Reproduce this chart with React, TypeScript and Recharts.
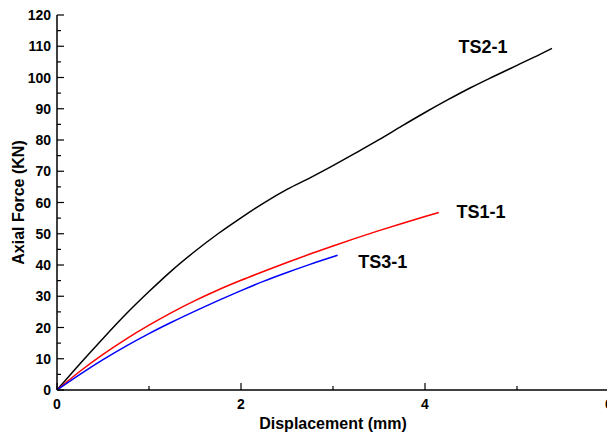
import { LineChart, Line, XAxis, YAxis, ReferenceDot } from "recharts";

// TS2-1 (black)
const ts2Disp = [0, 0.25, 0.5, 0.75, 1.0, 1.25, 1.5, 1.75, 2.0, 2.25, 2.5, 2.75, 3.0, 3.25, 3.5, 3.75, 4.0, 4.25, 4.5, 4.75, 5.0, 5.25, 5.38];
const ts2Force = [0, 8.4, 16.5, 24.3, 31.5, 38.3, 44.4, 50.0, 55.1, 59.9, 64.2, 67.9, 71.8, 75.9, 80.1, 84.5, 88.8, 92.9, 96.8, 100.4, 103.9, 107.4, 109.3];

// TS1-1 (red)
const ts1Disp = [0, 0.25, 0.5, 0.75, 1.0, 1.25, 1.5, 1.75, 2.0, 2.25, 2.5, 2.75, 3.0, 3.25, 3.5, 3.75, 4.0, 4.15];
const ts1Force = [0, 6.0, 11.4, 16.3, 20.75, 24.85, 28.6, 32.0, 35.1, 38.0, 40.8, 43.5, 46.1, 48.6, 51.0, 53.3, 55.5, 56.8];

// TS3-1 (blue)
const ts3Disp = [0, 0.25, 0.5, 0.75, 1.0, 1.25, 1.5, 1.75, 2.0, 2.25, 2.5, 2.75, 3.05];
const ts3Force = [0, 5.0, 9.7, 14.05, 18.05, 21.75, 25.25, 28.6, 31.8, 34.85, 37.6, 40.2, 43.1];

const xTicks = [0, 1, 2, 3, 4, 5, 6];
const yTicks = [0, 5, 10, 15, 20, 25, 30, 35, 40, 45, 50, 55, 60, 65, 70, 75, 80, 85, 90, 95, 100, 105, 110, 115, 120];

const labels = [
  { name: "TS2-1", x: 4.63, y: 110 },
  { name: "TS1-1", x: 4.61, y: 57 },
  { name: "TS3-1", x: 3.54, y: 41 },
];

const toPoints = (d: number[], f: number[]) => d.map((x, i) => ({ x, y: f[i] }));

const font = "'Liberation Sans', Arial, sans-serif";

const BottomTick = (p: any) => {
  const v = p.payload.value;
  const major = v % 2 === 0;
  return (
    <g>
      <line x1={p.x} y1={p.y} x2={p.x} y2={p.y - (major ? 7 : 4)} stroke="#000" strokeWidth={1.2} />
      {major && (
        <text x={p.x} y={p.y + 19} textAnchor="middle" fontSize={14} fontWeight="bold" fontFamily={font} fill="#000">
          {v}
        </text>
      )}
    </g>
  );
};

const TopTick = (p: any) => (
  <line x1={p.x} y1={p.y} x2={p.x} y2={p.y + 3} stroke="#000" strokeWidth={1.2} />
);

const LeftTick = (p: any) => {
  const v = p.payload.value;
  const major = v % 10 === 0;
  return (
    <g>
      <line x1={p.x} y1={p.y} x2={p.x + (major ? 7 : 4)} y2={p.y} stroke="#000" strokeWidth={1.2} />
      {major && (
        <text x={p.x - 6} y={p.y + 5} textAnchor="end" fontSize={14} fontWeight="bold" fontFamily={font} fill="#000">
          {v}
        </text>
      )}
    </g>
  );
};

export default function App() {
  return (
    <div style={{ position: "absolute", left: 0, top: 0, width: 607, height: 434, overflow: "hidden", background: "#fff" }}>
      <LineChart width={630} height={434} margin={{ top: 15, right: 21, bottom: 0, left: 0 }}>
        <XAxis
          type="number"
          dataKey="x"
          domain={[0, 6]}
          ticks={xTicks}
          interval={0}
          allowDataOverflow
          height={44}
          tickSize={0}
          tickMargin={0}
          tickLine={false}
          tick={(p: any) => <BottomTick {...p} />}
          axisLine={{ stroke: "#000", strokeWidth: 1.5 }}
          label={{ value: "Displacement (mm)", position: "insideBottom", offset: 5, fontSize: 16, fontWeight: "bold", fontFamily: font, fill: "#000" }}
        />
        <XAxis
          xAxisId="top"
          orientation="top"
          type="number"
          dataKey="x"
          domain={[0, 6]}
          ticks={xTicks}
          interval={0}
          allowDataOverflow
          height={0}
          tickSize={0}
          tickMargin={0}
          tickLine={false}
          tick={(p: any) => <TopTick {...p} />}
          axisLine={{ stroke: "#000", strokeWidth: 1.5 }}
        />
        <YAxis
          type="number"
          dataKey="y"
          domain={[0, 120]}
          ticks={yTicks}
          interval={0}
          allowDataOverflow
          width={57}
          tickSize={0}
          tickMargin={0}
          tickLine={false}
          tick={(p: any) => <LeftTick {...p} />}
          axisLine={{ stroke: "#000", strokeWidth: 1.5 }}
          label={{ value: "Axial Force (KN)", angle: -90, position: "insideLeft", offset: 18, fontSize: 16, fontWeight: "bold", fontFamily: font, fill: "#000", style: { textAnchor: "middle" } }}
        />
        <Line data={toPoints(ts2Disp, ts2Force)} dataKey="y" type="monotone" stroke="#000" strokeWidth={1.5} dot={false} isAnimationActive={false} />
        <Line data={toPoints(ts1Disp, ts1Force)} dataKey="y" type="monotone" stroke="#ff0000" strokeWidth={1.5} dot={false} isAnimationActive={false} />
        <Line data={toPoints(ts3Disp, ts3Force)} dataKey="y" type="monotone" stroke="#0000ff" strokeWidth={1.5} dot={false} isAnimationActive={false} />
        {labels.map((l) => (
          <ReferenceDot
            key={l.name}
            x={l.x}
            y={l.y}
            r={0}
            fill="none"
            stroke="none"
            label={{ value: l.name, position: "center", fontSize: 18, fontWeight: "bold", fontFamily: font, fill: "#000" }}
          />
        ))}
      </LineChart>
    </div>
  );
}
